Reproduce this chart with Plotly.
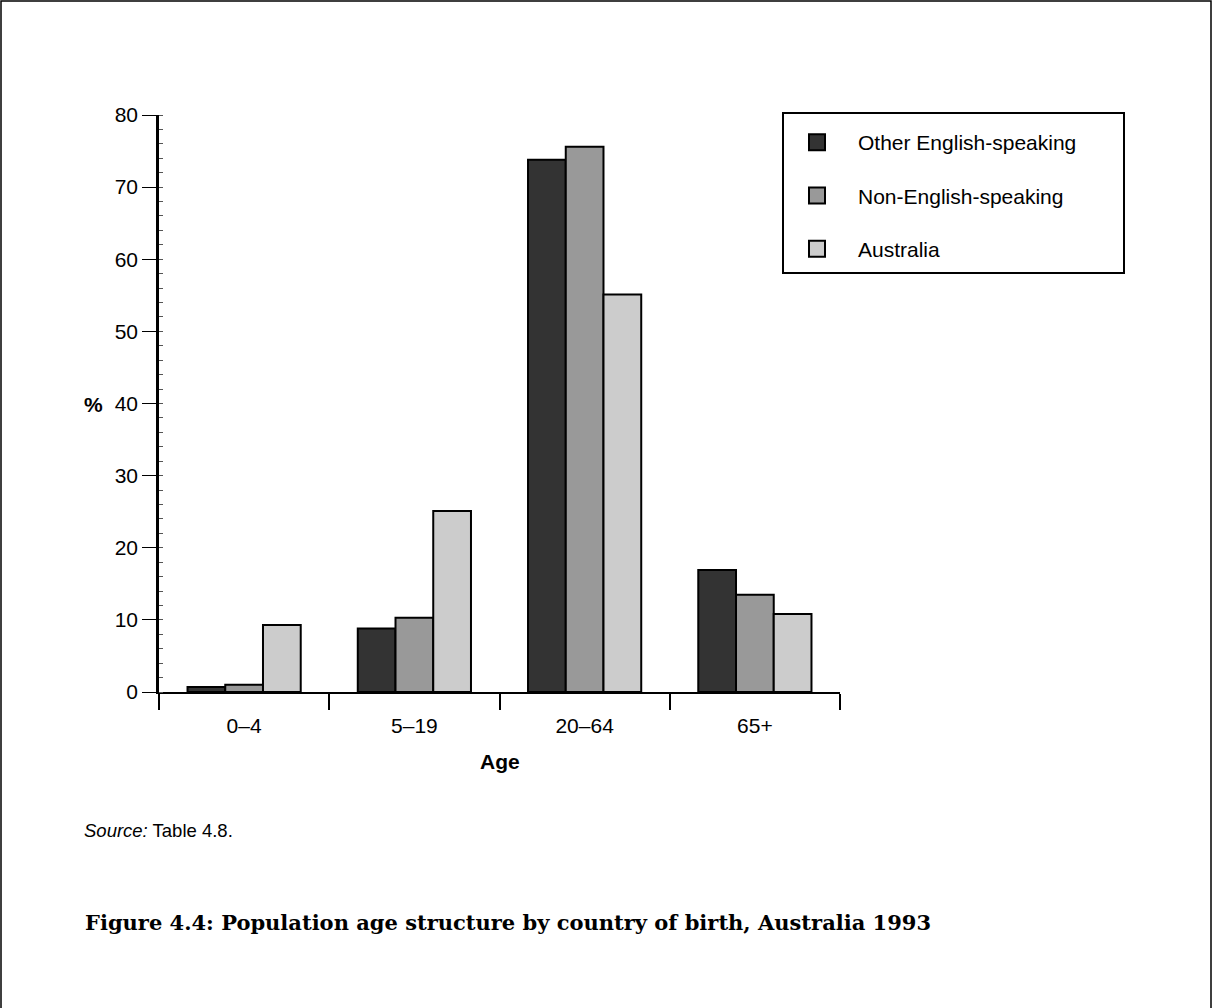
import plotly.graph_objects as go

# ---- data ----
age_groups = ["0–4", "5–19", "20–64", "65+"]
series_names = ["Other English-speaking", "Non-English-speaking", "Australia"]
other_english = [0.7, 8.8, 73.8, 16.9]
non_english = [1.0, 10.3, 75.6, 13.5]
australia = [9.3, 25.1, 55.1, 10.8]
series_values = [other_english, non_english, australia]
series_colors = ["#333333", "#999999", "#cccccc"]
y_tick_values = [0, 10, 20, 30, 40, 50, 60, 70, 80]

# ---- layout geometry (pixels) ----
W, H = 1213, 1008
L, R, T, B = 159, W - 840, 115, H - 692
PW, PH = W - L - R, H - T - B


def px(x):
    return (x - L) / PW


def py(y):
    return (H - B - y) / PH


FONT = "Liberation Sans, Arial, sans-serif"
FS = 21

fig = go.Figure()
for name, vals, col in zip(series_names, series_values, series_colors):
    fig.add_trace(go.Bar(
        x=age_groups, y=vals, name=name, showlegend=False,
        marker=dict(color=col, line=dict(color="black", width=2)),
        hoverinfo="x+y+name",
    ))
# legend swatches
for i, (name, col) in enumerate(zip(series_names, series_colors)):
    fig.add_trace(go.Scatter(
        x=[None], y=[None], mode="markers", name=name, legendgroup=f"g{i}",
        marker=dict(symbol="square", size=19, color=col,
                    line=dict(color="black", width=2)),
    ))

fig.update_layout(
    width=W, height=H,
    margin=dict(l=L, r=R, t=T, b=B, autoexpand=False),
    paper_bgcolor="white", plot_bgcolor="white",
    barmode="group", bargap=0.335, bargroupgap=0,
    font=dict(family=FONT, size=FS, color="black"),
    showlegend=True,
    legend=dict(
        x=px(776), y=py(122), xanchor="left", yanchor="top",
        borderwidth=0, bgcolor="rgba(0,0,0,0)",
        font=dict(family=FONT, size=FS, color="black"),
        tracegroupgap=23, itemwidth=72,
    ),
    xaxis=dict(
        type="category", showline=True, linecolor="black", linewidth=2,
        ticks="outside", tickson="boundaries", ticklen=16, tickcolor="black",
        tickwidth=1.5, showgrid=False, zeroline=False, ticklabelstandoff=14,
        tickfont=dict(family=FONT, size=FS, color="black"),
    ),
    yaxis=dict(
        range=[0, 80], tickvals=y_tick_values, showline=True,
        linecolor="black", linewidth=2.5, ticks="outside", ticklen=14,
        tickcolor="black", tickwidth=1, showgrid=False, zeroline=False,
        tickfont=dict(family=FONT, size=FS, color="black"),
        minor=dict(ticks="inside", dtick=2, ticklen=4, tickcolor="#555555",
                   tickwidth=1),
    ),
)

fig.add_annotation(text="<b>%</b>", xref="paper", yref="paper", x=px(105), y=py(404),
                   xanchor="right", yanchor="middle", showarrow=False,
                   font=dict(family=FONT, size=FS, color="black"))
fig.add_annotation(text="<b>Age</b>", xref="paper", yref="paper", x=0.5, y=py(761),
                   xanchor="center", yanchor="middle", showarrow=False,
                   font=dict(family=FONT, size=FS, color="black"))
fig.add_annotation(text="<i>Source:</i> Table 4.8.", xref="paper", yref="paper",
                   x=px(82), y=py(830), xanchor="left", yanchor="middle",
                   showarrow=False, font=dict(family=FONT, size=18.5, color="black"))
fig.add_annotation(text="<b>Figure 4.4: Population age structure by country of birth, Australia 1993</b>",
                   xref="paper", yref="paper", x=px(83), y=py(922),
                   xanchor="left", yanchor="middle", showarrow=False,
                   font=dict(family="DejaVu Serif, serif", size=21, color="black"))

# legend box
fig.add_shape(type="rect", xref="paper", yref="paper",
              x0=px(783), x1=px(1124), y0=py(273), y1=py(113),
              line=dict(color="black", width=2), fillcolor="white",
              layer="below")
# outer frame
fig.add_shape(type="rect", xref="paper", yref="paper",
              x0=px(1), x1=px(1211), y0=py(1020), y1=py(1),
              line=dict(color="black", width=1.5), fillcolor="rgba(0,0,0,0)",
              layer="below")

fig.write_html("out.html", config={"displayModeBar": False},
               post_script="document.body.style.margin='0px';")
